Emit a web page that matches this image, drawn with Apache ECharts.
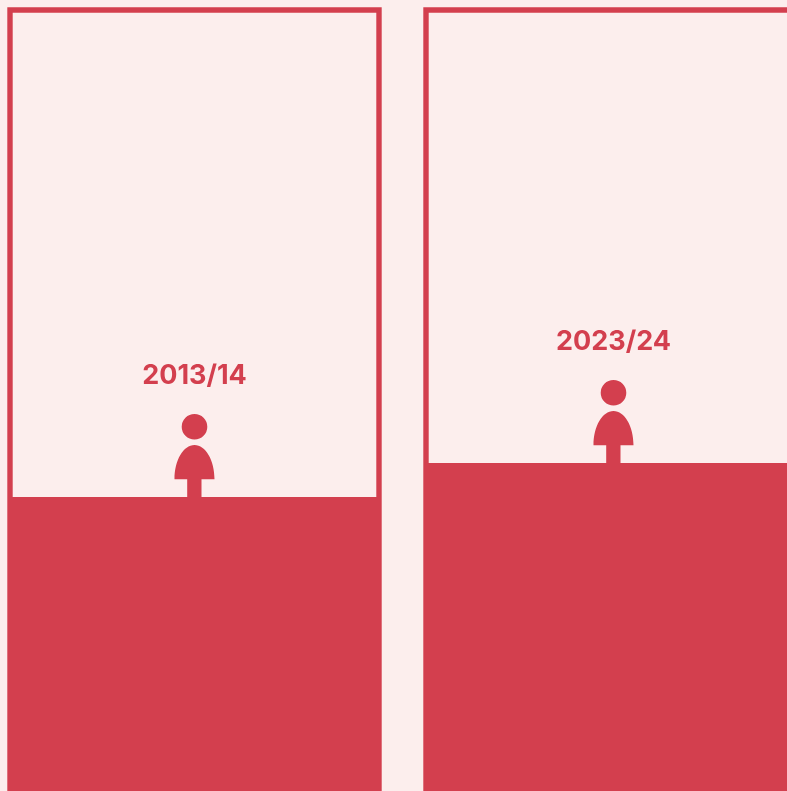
<!DOCTYPE html>
<html>
<head>
<meta charset="utf-8">
<title>2013/14 - 2023/24</title>
<script src="https://cdn.jsdelivr.net/npm/echarts@6/dist/echarts.min.js"></script>
<style>
  html, body { margin: 0; padding: 0; background: #fceeed; overflow: hidden; }
  #main { width: 787px; height: 791px; }
</style>
</head>
<body>
<div id="main"></div>
<script>
// values, as share of the full box height
var periods = ['2013/14', '2023/24'];
var shares = [37.65, 42.0];

var RED = '#d33f4e';
var PINK = '#fceeed';

// little person standing on the bar
var personPath = 'path://M7.2 12.8A12.8 12.8 0 1 1 32.8 12.8A12.8 12.8 0 1 1 7.2 12.8Z' +
    'M0 65.3C0 46 9 31 20 31C31 31 40 46 40 65.3L27 65.3L27 83L12.7 83L12.7 65.3Z';

var myChart = echarts.init(document.getElementById('main'), null, { renderer: 'canvas' });

var grids = [
    { left: 10, top: 10, width: 369, height: 781 },
    { left: 426, top: 10, width: 375, height: 781 }
];

var grid = [], xAxis = [], yAxis = [], series = [];

periods.forEach(function (name, i) {
    grid.push({
        left: grids[i].left,
        top: grids[i].top,
        width: grids[i].width,
        height: grids[i].height,
        outerBoundsMode: 'none', // box runs off the right edge on purpose
        show: true,
        backgroundColor: PINK,
        borderColor: RED,
        borderWidth: 5.4
    });
    xAxis.push({ type: 'category', gridIndex: i, data: [name], show: false });
    yAxis.push({ type: 'value', gridIndex: i, min: 0, max: 100, show: false });
    series.push({
        type: 'bar',
        xAxisIndex: i,
        yAxisIndex: i,
        data: [shares[i]],
        barWidth: '100%',
        itemStyle: { color: RED },
        silent: true
    });
    series.push({
        type: 'scatter',
        xAxisIndex: i,
        yAxisIndex: i,
        data: [shares[i]],
        symbol: personPath,
        symbolSize: [40, 83],
        symbolOffset: [0, '-50%'],
        itemStyle: { color: RED, opacity: 1 },
        label: {
            show: true,
            position: 'top',
            distance: 25,
            formatter: name,
            color: RED,
            fontFamily: 'Inter',
            fontWeight: 700,
            fontSize: 27
        },
        silent: true,
        z: 5
    });
});

var option = {
    animation: false,
    backgroundColor: PINK,
    grid: grid,
    xAxis: xAxis,
    yAxis: yAxis,
    series: series
};

myChart.setOption(option);
</script>
</body>
</html>
